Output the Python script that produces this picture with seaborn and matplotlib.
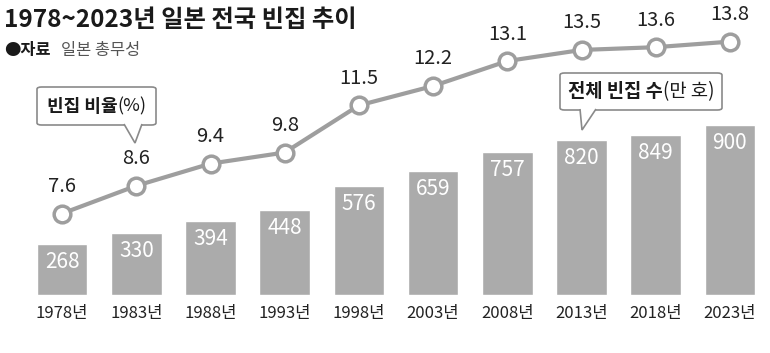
import matplotlib
matplotlib.use("Agg")
import matplotlib.pyplot as plt
import seaborn as sns
import pandas as pd
from matplotlib.patches import FancyBboxPatch, Polygon

years = ["1978년", "1983년", "1988년", "1993년", "1998년", "2003년", "2008년", "2013년", "2018년", "2023년"]
houses = [268, 330, 394, 448, 576, 659, 757, 820, 849, 900]
rates = [7.6, 8.6, 9.4, 9.8, 11.5, 12.2, 13.1, 13.5, 13.6, 13.8]

sns.set_theme(style="white")
plt.rcParams['font.family'] = ['Noto Sans CJK KR', 'DejaVu Sans']

W, H = 770, 353
fig = plt.figure(figsize=(W / 100, H / 100), dpi=100)
ax_left, ax_right, ax_bot, ax_top = 25, 767, 295, 30
ax = fig.add_axes([ax_left / W, 1 - ax_bot / H, (ax_right - ax_left) / W, (ax_bot - ax_top) / H])

df = pd.DataFrame({"year": years, "houses": houses, "rate": rates})
sns.barplot(data=df, x="year", y="houses", color="#ababab", saturation=1, width=0.68, ax=ax)
ax.set_ylim(0, 1403)
ax.set_xlim(-0.5, len(years) - 0.5)
for i, v in enumerate(houses):
    ax.annotate(str(v), (i, v), xytext=(0, -18), textcoords="offset pixels",
                ha="center", va="center", color="white", fontsize=15)

ax2 = ax.twinx()
sns.lineplot(data=df, x="year", y="rate", color="#9e9e9e", linewidth=3, sort=False, ax=ax2,
             marker="o", markersize=12, markerfacecolor="white", markeredgecolor="#9e9e9e",
             markeredgewidth=2.5)
ax2.set_ylim(4.66, 14.22)
for i, v in enumerate(rates):
    ax2.annotate(f"{v}", (i, v), xytext=(0, 27), textcoords="offset pixels",
                 ha="center", va="center", color="#222222", fontsize=14.5)

for a in (ax, ax2):
    for s in a.spines.values():
        s.set_visible(False)
    a.set_ylabel("")
    a.set_xlabel("")
    a.set_yticks([])
ax.tick_params(axis="x", length=0, pad=7, labelsize=12, labelcolor="#222222")

# Title and source
fig.text(4 / W, 1 - 20 / H, "1978~2023년 일본 전국 빈집 추이", fontsize=17.5, fontweight="bold",
         color="#1a1a1a", ha="left", va="center")
fig.text(4 / W, 1 - 50 / H, "●자료", fontsize=11.8, fontweight="bold", color="#1a1a1a", ha="left", va="center")
fig.text(61 / W, 1 - 50 / H, "일본 총무성", fontsize=11.8, color="#555555", ha="left", va="center")

# Callouts (figure pixel coordinates, y from top)
def callout(x0, y0, x1, y1, tip, base_x, txt_bold, txt_norm, fs):
    box = FancyBboxPatch((x0 / W, 1 - y1 / H), (x1 - x0) / W, (y1 - y0) / H,
                         boxstyle="round,pad=0,rounding_size=0.006", transform=fig.transFigure,
                         facecolor="white", edgecolor="#8a8a8a", linewidth=1.2, zorder=5)
    fig.patches.append(box)
    tri = Polygon([(base_x[0] / W, 1 - (y1 - 1) / H), (tip[0] / W, 1 - tip[1] / H),
                   (base_x[1] / W, 1 - (y1 - 1) / H)], closed=False, transform=fig.transFigure,
                  facecolor="white", edgecolor="#8a8a8a", linewidth=1.2, zorder=6)
    fig.patches.append(tri)
    cx = (x0 + x1) / 2
    t1 = fig.text(0, 0, txt_bold, fontsize=fs, fontweight="bold", color="#1a1a1a", zorder=7)
    t2 = fig.text(0, 0, txt_norm, fontsize=fs, color="#1a1a1a", zorder=7)
    r = fig.canvas.get_renderer()
    w1 = t1.get_window_extent(r).width
    w2 = t2.get_window_extent(r).width
    start = cx - (w1 + w2) / 2
    cy = (y0 + y1) / 2
    t1.set_position((start / W, 1 - cy / H)); t1.set_va("center")
    t2.set_position(((start + w1) / W, 1 - cy / H)); t2.set_va("center")

callout(37, 87, 156, 125, (135, 143), (124, 142), "빈집 비율", "(%)", 13)
callout(560, 73, 722, 110, (582, 130), (580, 596), "전체 빈집 수", "(만 호)", 13.5)

fig.savefig("out.png", dpi=100, facecolor="white")
